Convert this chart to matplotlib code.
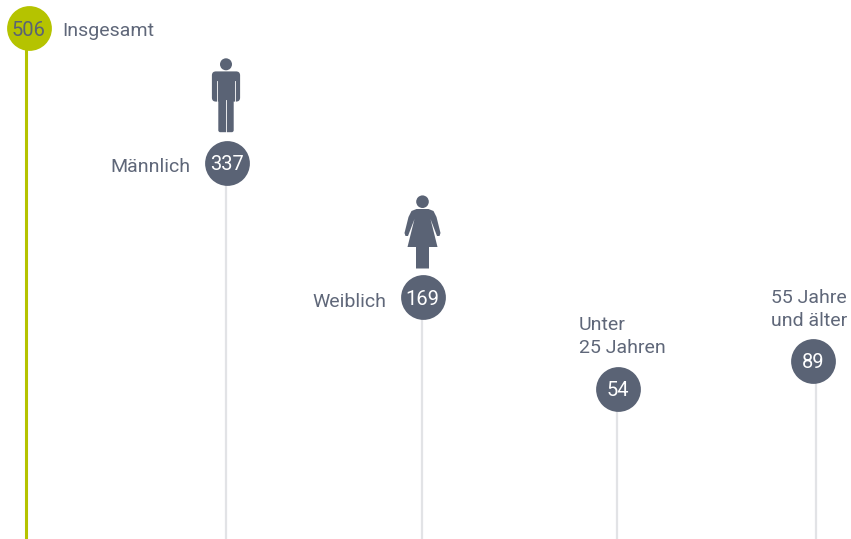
import matplotlib
matplotlib.use('Agg')
import matplotlib.pyplot as plt
from matplotlib.patches import Circle, Polygon, FancyBboxPatch

# Werte
categories = ['Insgesamt', 'Männlich', 'Weiblich', 'Unter\n25 Jahren', '55 Jahre\nund älter']
values = [506, 337, 169, 54, 89]

W, H = 851, 539
circle_x = [28.5, 227, 422.7, 617.5, 813]
line_x = [25.5, 226, 422, 616.5, 815.5]
label_xy = [(62, 31, 'left'), (190, 167, 'right'), (386, 302, 'right'), (579, 336.5, 'left'), (771, 309.5, 'left')]
slate = '#5a6375'
text_col = '#5f6779'
green = '#b5c300'
rule = '#e2e3e6'

plt.rcParams['font.family'] = ['Roboto', 'DejaVu Sans']

fig = plt.figure(figsize=(W / 100, H / 100), dpi=100)

# Werteachse: 506 liegt bei y=28.5, 1 Einheit ~ 0.798 px
ax = fig.add_axes([0, 0, 1, 1])
ax.set_xlim(0, W)
ax.set_ylim(506 - (H - 28.5) / 0.798, 506 + 28.5 / 0.798)
ax.axis('off')

for i, v in enumerate(values):
    col = green if i == 0 else slate
    ax.plot([line_x[i], line_x[i]], [ax.get_ylim()[0], v], color=green if i == 0 else rule,
            lw=2.2 if i == 0 else 1.6, solid_capstyle='butt', zorder=1)
    ax.scatter([circle_x[i]], [v], s=1040, color=col, linewidths=0, zorder=2)
    ax.text(circle_x[i], v - 2, str(v), color=slate if i == 0 else 'white', fontsize=14.5,
            ha='center', va='center', zorder=3)

# Overlay in Pixeln fuer Beschriftung und Icons
pix = fig.add_axes([0, 0, 1, 1])
pix.set_xlim(0, W)
pix.set_ylim(H, 0)
pix.axis('off')
pix.patch.set_alpha(0)

for cat, (lx, ly, ha) in zip(categories, label_xy):
    pix.text(lx, ly, cat, color=text_col, fontsize=14, ha=ha, va='center', linespacing=1.3)

# Mann
mx = line_x[1]
pix.add_patch(Circle((mx, 64.3), 6, color=slate, lw=0))
pix.add_patch(FancyBboxPatch((mx - 11.5, 74), 23, 25, boxstyle='round,pad=2.6,rounding_size=4',
                             fc=slate, ec='none'))
pix.add_patch(FancyBboxPatch((mx - 6.5, 90), 13, 41, boxstyle='round,pad=1.2,rounding_size=2',
                             fc=slate, ec='none'))
pix.plot([mx - 9, mx - 9], [81, 102.5], color='white', lw=0.6)
pix.plot([mx + 9, mx + 9], [81, 102.5], color='white', lw=0.6)
pix.plot([mx, mx], [100, 133], color='white', lw=0.6)

# Frau
fx = line_x[2] + 0.5
pix.add_patch(Circle((fx, 201.7), 6.3, color=slate, lw=0))
pix.add_patch(Polygon([(fx - 6, 209), (fx + 6, 209), (fx + 11, 211), (fx + 14, 217), (fx + 18, 233), (fx + 17, 236),
                       (fx + 14.5, 236), (fx + 8, 219), (fx + 15, 247), (fx + 6.5, 247), (fx + 6.5, 268.5),
                       (fx - 6.5, 268.5), (fx - 6.5, 247), (fx - 15, 247), (fx - 8, 219), (fx - 14.5, 236),
                       (fx - 17, 236), (fx - 18, 233), (fx - 14, 217), (fx - 11, 211)],
                      closed=True, fc=slate, ec='none', joinstyle='round'))

fig.savefig('out.png', dpi=100)
